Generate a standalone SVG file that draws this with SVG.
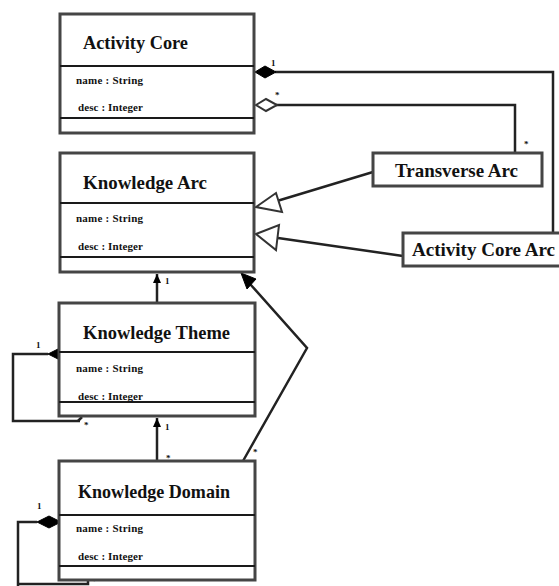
<svg xmlns="http://www.w3.org/2000/svg" width="559" height="586" viewBox="0 0 559 586">
<style>
.box{fill:#fff;stroke:#454545;stroke-width:3}
.div{stroke:#1a1a1a;stroke-width:2;fill:none}
.title{font-family:"Liberation Serif",serif;font-weight:bold;font-size:19px;fill:#111}
.attr{font-family:"Liberation Serif",serif;font-weight:bold;font-size:11px;fill:#111}
.ln{fill:none;stroke:#222;stroke-width:2.5}
.mult{font-family:"Liberation Serif",serif;font-weight:bold;font-size:9px;fill:#111}
.tri{fill:#fff;stroke:#333;stroke-width:2}
.fd{fill:#000;stroke:#000;stroke-width:1}
.hd{fill:#fff;stroke:#333;stroke-width:2}
</style>
<defs>
<marker id="arr" markerWidth="10" markerHeight="10" refX="9" refY="5" orient="auto" markerUnits="userSpaceOnUse">
<path d="M0,1 L9,5 L0,9 Z" fill="#000"/>
</marker>
</defs>
<g id="connectors">
<polyline class="ln" points="275,72 553,72 553,233"/>
<path class="fd" d="M255,72 L265,66 L276,72 L265,78 Z"/>
<text class="mult" x="271" y="66">1</text>
<polyline class="ln" points="276,105 515,105 515,153"/>
<path class="hd" d="M256,105 L266,99 L277,105 L266,111 Z"/>
<text class="mult" x="275" y="98">*</text>
<text class="mult" x="524" y="147">*</text>
<line class="ln" x1="373" y1="172" x2="277" y2="201"/>
<path class="tri" d="M256,207 L276,193 L282,212 Z"/>
<line class="ln" x1="403" y1="256" x2="278" y2="238"/>
<path class="tri" d="M256,234 L279,225 L276,250 Z"/>
<line class="ln" x1="157" y1="303" x2="157" y2="274" marker-end="url(#arr)"/>
<text class="mult" x="165" y="284">1</text>
<line class="ln" x1="157" y1="461" x2="157" y2="418" marker-end="url(#arr)"/>
<text class="mult" x="165" y="430">1</text>
<text class="mult" x="166" y="461">*</text>
<polyline class="ln" points="243,461 307,348 250,284"/>
<path class="fd" d="M241,273 L256,279 L247,289 Z"/>
<text class="mult" x="253" y="455">*</text>
<polyline class="ln" points="48,354 13,354 13,421 80,421"/>
<path class="fd" d="M48,354 L60,348 L72,354 L60,360 Z"/>
<polyline class="ln" points="78,421 82,417"/>
<text class="mult" x="36" y="348">1</text>
<text class="mult" x="84" y="428">*</text>
<polyline class="ln" points="37,522 18,522 18,586"/>
<polyline class="ln" points="18,584 88,584 88,580"/>
<path class="fd" d="M37,522 L49,516 L61,522 L49,528 Z"/>
<text class="mult" x="37" y="509">1</text>
<text class="mult" x="92" y="584">*</text>
</g>
<g id="activity-core">
<rect class="box" x="60" y="14" width="194" height="119"/>
<line class="div" x1="60" y1="66" x2="254" y2="66"/>
<line class="div" x1="60" y1="118" x2="254" y2="118"/>
<text class="title" x="83" y="49" textLength="105" lengthAdjust="spacingAndGlyphs">Activity Core</text>
<text class="attr" x="76" y="84" textLength="67">name : String</text>
<text class="attr" x="78" y="111" textLength="65">desc : Integer</text>
</g>
<g id="knowledge-arc">
<rect class="box" x="60" y="153" width="194" height="119"/>
<line class="div" x1="60" y1="203" x2="254" y2="203"/>
<line class="div" x1="60" y1="257" x2="254" y2="257"/>
<text class="title" x="83" y="189" textLength="124" lengthAdjust="spacingAndGlyphs">Knowledge Arc</text>
<text class="attr" x="76" y="222" textLength="67">name : String</text>
<text class="attr" x="78" y="250" textLength="65">desc : Integer</text>
</g>
<g id="knowledge-theme">
<rect class="box" x="59" y="303" width="196" height="113"/>
<line class="div" x1="59" y1="352" x2="255" y2="352"/>
<line class="div" x1="59" y1="402" x2="255" y2="402"/>
<text class="title" x="83" y="339" textLength="147" lengthAdjust="spacingAndGlyphs">Knowledge Theme</text>
<text class="attr" x="76" y="372" textLength="67">name : String</text>
<text class="attr" x="78" y="400" textLength="65">desc : Integer</text>
</g>
<g id="knowledge-domain">
<rect class="box" x="59" y="461" width="196" height="119"/>
<line class="div" x1="59" y1="515" x2="255" y2="515"/>
<line class="div" x1="59" y1="566" x2="255" y2="566"/>
<text class="title" x="78" y="498" textLength="152" lengthAdjust="spacingAndGlyphs">Knowledge Domain</text>
<text class="attr" x="76" y="532" textLength="67">name : String</text>
<text class="attr" x="78" y="560" textLength="65">desc : Integer</text>
</g>
<g id="transverse-arc">
<rect class="box" x="373" y="153" width="169" height="33" stroke-width="2.5"/>
<text class="title" x="395" y="177" font-size="16" textLength="123" lengthAdjust="spacingAndGlyphs">Transverse Arc</text>
</g>
<g id="activity-core-arc">
<rect class="box" x="403" y="233" width="160" height="33" stroke-width="2.5"/>
<text class="title" x="412" y="256" font-size="16" textLength="143" lengthAdjust="spacingAndGlyphs">Activity Core Arc</text>
</g>
</svg>
